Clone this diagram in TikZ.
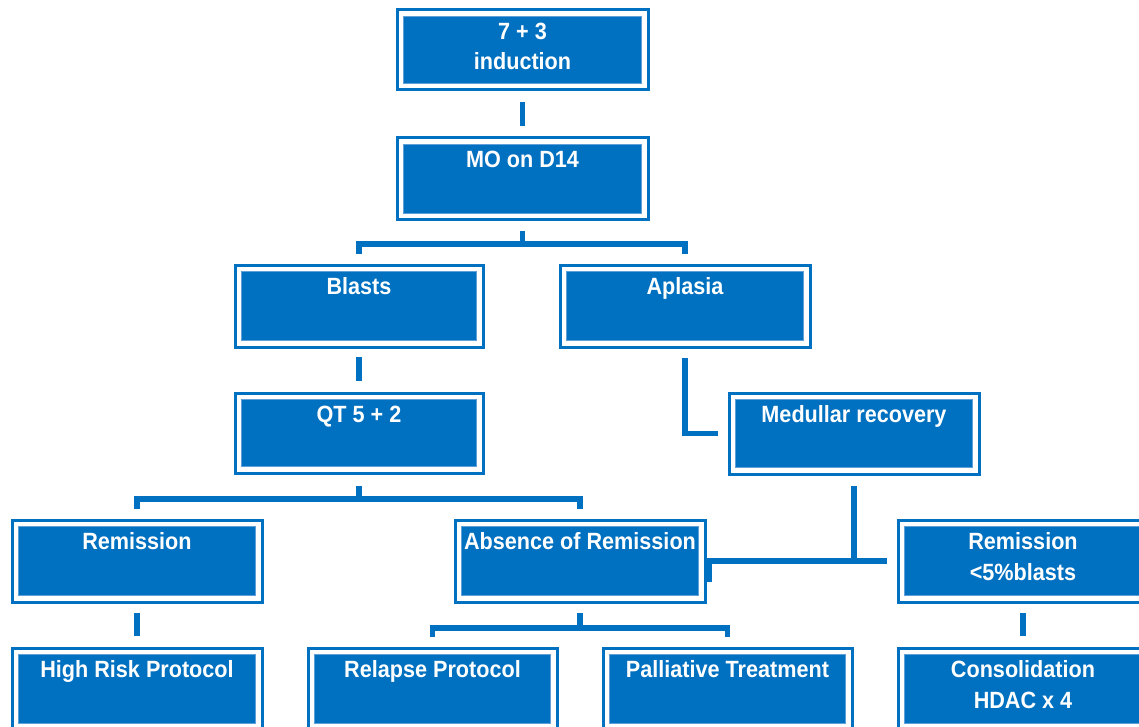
\documentclass[tikz,border=0pt]{standalone}
\usepackage{fontspec}
\newfontfamily\stagefont[FakeStretch=0.92]{Liberation Sans}
\definecolor{stageblue}{RGB}{0,112,192}
\definecolor{stagerim}{RGB}{96,160,218}

\tikzset{
  stage/.style={draw=stageblue, line width=3pt, fill=white, inner sep=0pt,
    path picture={\fill[stageblue, draw=stagerim, line width=0.8pt]
      ([shift={(6.5pt,6.5pt)}]path picture bounding box.south west) rectangle
      ([shift={(-6.5pt,-6.5pt)}]path picture bounding box.north east);}},
  stagetext/.style={anchor=base, text=white, align=center, inner sep=0pt,
    font=\stagefont\bfseries\fontsize{23.5pt}{30.5pt}\selectfont},
  link/.style={draw=stageblue, line width=5.5pt, line cap=butt, line join=miter}
}

% [number of text lines] name, left, top, width, height (outer edges), text;
% the label is placed by the baseline of its last line
\newcommand\flowbox[7][1]{%
  \node[stage, minimum width={#5pt-3pt}, minimum height={#6pt-3pt}, anchor=north west]
    (#2) at (#3+1.5,#4+1.5) {};
  \node[stagetext] (#2-label) at ([yshift={-31pt-(#1-1)*30.5pt}]#2.north) {#7};
}

\begin{document}
\begin{tikzpicture}[x=1pt, y=-1pt]
  \useasboundingbox (0,0) rectangle (1139,727);

  \flowbox[2]{ind}{394}{7}{254}{83}{7 + 3\\induction}
  \flowbox{mo}{394}{135}{254}{85}{MO on D14}
  \flowbox{blasts}{232}{262}{251}{85}{Blasts}
  \flowbox{aplasia}{557}{262}{253}{85}{Aplasia}
  \flowbox{qt}{232}{390}{251}{83}{QT 5 + 2}
  \flowbox{med}{726}{390}{253}{84}{Medullar recovery}
  \flowbox{rem}{9}{517}{253}{85}{Remission}
  \flowbox{abs}{452}{517}{253}{85}{Absence of Remission}
  \flowbox[2]{remfive}{895}{517}{253}{85}{Remission\\<5\%blasts}
  \flowbox{hr}{9}{645}{253}{85}{High Risk Protocol}
  \flowbox{rel}{305}{645}{252}{85}{Relapse Protocol}
  \flowbox{pal}{600}{645}{252}{85}{Palliative Treatment}
  \flowbox[2]{cons}{895}{645}{253}{85}{Consolidation\\HDAC x 4}

  % induction -> bone marrow on day 14
  \draw[link] ([yshift=-10.5pt]ind.south) -- ([yshift=10.5pt]mo.north);

  % day 14 -> blasts / aplasia
  \draw[link] ([yshift=-9.5pt]mo.south) -- ([yshift=-22.5pt]mo.south);
  \draw[link] ([yshift=9.5pt]blasts.north) |- ([yshift=-22.5pt]mo.south)
              -| ([yshift=9.5pt]aplasia.north);

  % blasts -> second cycle
  \draw[link] ([yshift=-8.5pt]blasts.south) -- ([yshift=10.5pt]qt.north);

  % aplasia -> medullar recovery
  \draw[link] ([yshift=-9.5pt]aplasia.south) |- ([xshift=-9.5pt]med.west);

  % second cycle -> remission / absence of remission
  \draw[link] ([yshift=-11.5pt]qt.south) -- ([yshift=-24.5pt]qt.south);
  \draw[link] ([yshift=9.5pt]rem.north) |- ([yshift=-24.5pt]qt.south)
              -| ([yshift=9.5pt]abs.north);

  % medullar recovery -> remission <5% blasts, joined to absence of remission
  \draw[link] ([yshift=-10.5pt]med.south) |- ([xshift=-10pt]remfive.west);
  \draw[link] ([xshift=2.5pt,yshift=-20.5pt]abs.east) |- (med.south |- abs.east);

  % remission -> high risk protocol
  \draw[link] ([yshift=-9.5pt]rem.south) -- ([yshift=10.5pt]hr.north);

  % absence of remission -> relapse / palliative
  \draw[link] ([yshift=-9.5pt]abs.south) -- ([yshift=-24.5pt]abs.south);
  \draw[link] ([yshift=9.5pt]rel.north) |- ([yshift=-24.5pt]abs.south)
              -| ([yshift=9.5pt]pal.north);

  % remission <5% blasts -> consolidation
  \draw[link] ([yshift=-9.5pt]remfive.south) -- ([yshift=10.5pt]cons.north);
\end{tikzpicture}
\end{document}
